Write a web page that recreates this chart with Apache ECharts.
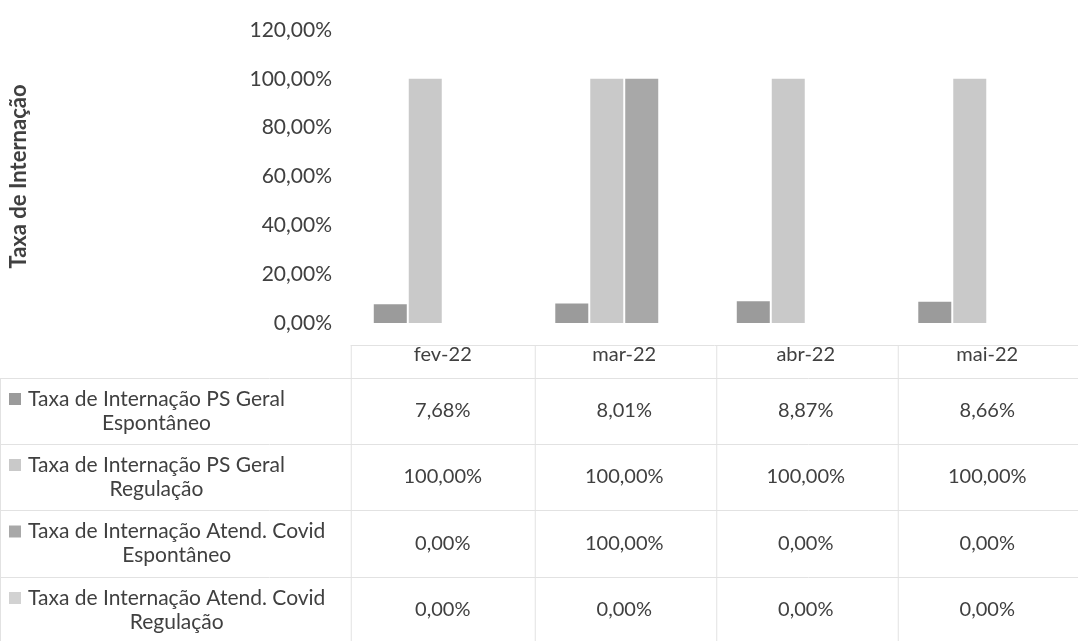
<!DOCTYPE html>
<html>
<head>
<meta charset="utf-8">
<script src="https://cdn.jsdelivr.net/npm/echarts@6/dist/echarts.min.js"></script>
<style>
  html, body { margin: 0; padding: 0; background: #fff; }
  #chart { width: 1078px; height: 641px; }
</style>
</head>
<body>
<div id="chart"></div>
<script>
// data (percent)
const months = ["fev-22", "mar-22", "abr-22", "mai-22"];
const psGeralEspontaneo = [7.68, 8.01, 8.87, 8.66];
const psGeralRegulacao = [100, 100, 100, 100];
const covidEspontaneo = [0, 100, 0, 0];
const covidRegulacao = [0, 0, 0, 0];
const yTicks = [0, 20, 40, 60, 80, 100, 120];

const rowLabels = [
  ["Taxa de Internação PS Geral", "Espontâneo"],
  ["Taxa de Internação PS Geral", "Regulação"],
  ["Taxa de Internação Atend. Covid", "Espontâneo"],
  ["Taxa de Internação Atend. Covid", "Regulação"],
];
const colors = ["#9b9b9b", "#c9c9c9", "#a8a8a8", "#d2d2d2"];
const seriesData = [psGeralEspontaneo, psGeralRegulacao, covidEspontaneo, covidRegulacao];

const FONT = "Lato, 'Open Sans', sans-serif";
const fmt = v => v.toFixed(2).replace(".", ",") + "%";

const chart = echarts.init(document.getElementById("chart"));

const option = {
  backgroundColor: "#fff",
  animation: false,
  grid: { left: 349, top: 30, width: 736, height: 293, containLabel: false },
  xAxis: {
    type: "category",
    data: months,
    axisLine: { show: false },
    axisTick: { show: false },
    axisLabel: { margin: 22, fontSize: 20, color: "#404040", fontFamily: FONT },
  },
  yAxis: {
    type: "value",
    min: yTicks[0],
    max: yTicks[yTicks.length - 1],
    interval: 20,
    splitLine: { show: false },
    axisLine: { show: false },
    axisTick: { show: false },
    axisLabel: { margin: 20, fontSize: 21, color: "#404040", fontFamily: FONT, formatter: v => fmt(v) },
    name: "Taxa de Internação",
    nameLocation: "middle",
    nameRotate: 90,
    nameGap: 322,
    nameTextStyle: { fontSize: 22, fontWeight: "bold", color: "#404040", fontFamily: FONT },
  },
  series: seriesData.map((d, i) => ({
    name: rowLabels[i].join(" "),
    type: "bar",
    data: d,
    barWidth: 33,
    barGap: "6%",
    itemStyle: { color: colors[i] },
  })),
};
chart.setOption(option);

// data table under the plot
const rowTops = [345, 378, 444, 510, 577, 643];
const colEdges = [];
const half = 92;
months.forEach((m, i) => {
  const x = chart.convertToPixel({ xAxisIndex: 0 }, m);
  if (i === 0) colEdges.push(x - half);
  colEdges.push(x + half);
});

const labelFont = "21px " + FONT;
const valueFont = "20px " + FONT;
const ctx = document.createElement("canvas").getContext("2d");
ctx.font = labelFont;

const lineStyle = { stroke: "#e2e2e2", lineWidth: 1 };
const g = [];
// horizontal lines
rowTops.forEach((y, i) => {
  g.push({ type: "line", shape: { x1: i === 0 ? colEdges[0] : 0, y1: y + 0.5, x2: 1078, y2: y + 0.5 }, style: lineStyle, silent: true });
});
// vertical lines
colEdges.forEach((x) => {
  g.push({ type: "line", shape: { x1: x + 0.5, y1: rowTops[0], x2: x + 0.5, y2: 641 }, style: lineStyle, silent: true });
});
g.push({ type: "line", shape: { x1: 0.5, y1: rowTops[1], x2: 0.5, y2: 641 }, style: lineStyle, silent: true });

// row labels and values
rowLabels.forEach((lines, r) => {
  const cy = (rowTops[r + 1] + rowTops[r + 2]) / 2;
  const w1 = ctx.measureText(lines[0]).width;
  const tx = 28;
  g.push({ type: "rect", shape: { x: 9, y: cy - 18, width: 12, height: 12 }, style: { fill: colors[r] }, silent: true });
  g.push({ type: "text", x: tx, y: cy - 12, style: { text: lines[0], font: labelFont, fill: "#404040", verticalAlign: "middle", align: "left" }, silent: true });
  g.push({ type: "text", x: tx + w1 / 2, y: cy + 12, style: { text: lines[1], font: labelFont, fill: "#404040", verticalAlign: "middle", align: "center" }, silent: true });
  seriesData[r].forEach((v, c) => {
    const x = chart.convertToPixel({ xAxisIndex: 0 }, months[c]);
    g.push({ type: "text", x: x, y: cy, style: { text: fmt(v), font: valueFont, fill: "#404040", verticalAlign: "middle", align: "center" }, silent: true });
  });
});

chart.setOption({ graphic: g });
</script>
</body>
</html>
